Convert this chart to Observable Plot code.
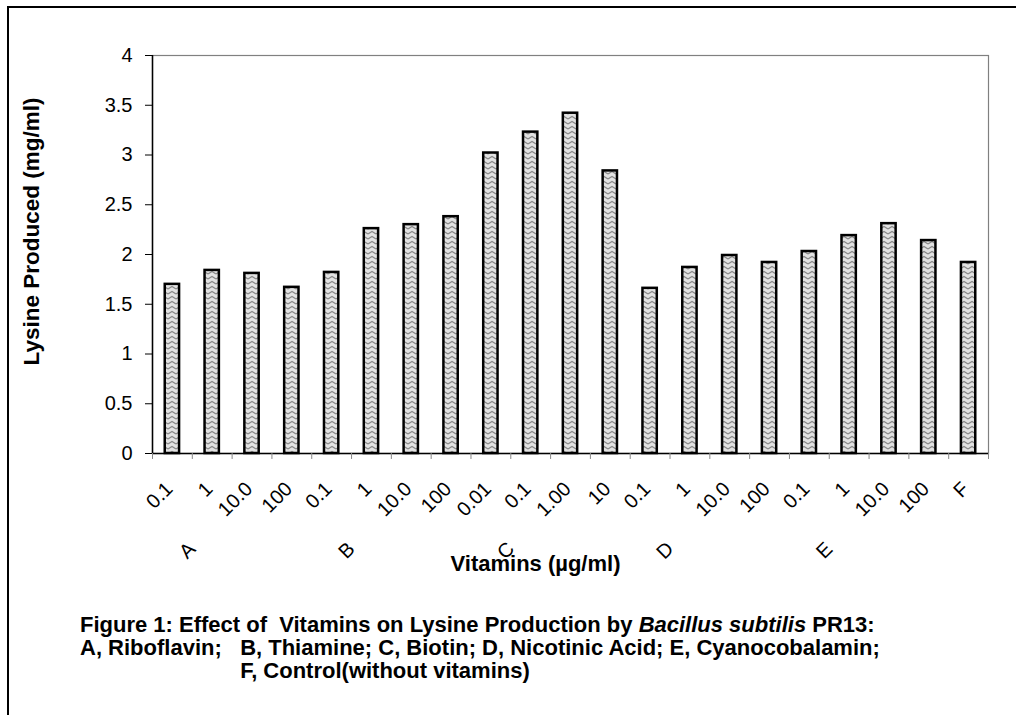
<!DOCTYPE html>
<html>
<head>
<meta charset="utf-8">
<script src="https://cdn.jsdelivr.net/npm/d3@7"></script>
<script src="https://cdn.jsdelivr.net/npm/@observablehq/plot@0.6"></script>
<style>
  body { margin: 0; background: #fff; overflow: hidden; }
  #wrap { position: relative; width: 1016px; height: 715px; overflow: hidden; font-family: "Liberation Sans", Arial, sans-serif; background: #fff; }
  #frame { position: absolute; left: 7px; top: 6px; width: 1100px; height: 800px; border-left: 2px solid #000; border-top: 2px solid #000; }
  #chart { position: absolute; left: 0; top: 0; }
  #caption { position: absolute; left: 80px; top: 613px; font-weight: bold; font-size: 22px; line-height: 23px; white-space: pre; color: #000; }
  #caption div { height: 23px; }
</style>
</head>
<body>
<svg width="0" height="0" style="position:absolute">
  <defs>
    <pattern id="zig" width="8" height="5" patternUnits="userSpaceOnUse">
      <rect width="8" height="5" fill="#e2e2e2"></rect>
      <path d="M0,4 L4,1.5 L8,4" fill="none" stroke="#888888" stroke-width="1.2"></path>
    </pattern>
  </defs>
</svg>
<div id="wrap">
  <div id="frame"></div>
  <div id="chart"></div>
  <div id="caption"></div>
</div>
<script>
// ---- data ----
const groups = ["A","A","A","A","B","B","B","B","C","C","C","C","D","D","D","D","E","E","E","E","F"];
const doses  = ["0.1","1","10.0","100","0.1","1","10.0","100","0.01","0.1","1.00","10","0.1","1","10.0","100","0.1","1","10.0","100","F"];
const values = [1.70,1.84,1.81,1.67,1.82,2.26,2.30,2.38,3.02,3.23,3.42,2.84,1.66,1.87,1.99,1.92,2.03,2.19,2.31,2.14,1.92];
const groupLabels = ["A","B","C","D","E"];
const yTicks = [0,0.5,1,1.5,2,2.5,3,3.5,4];
const yTitle = "Lysine Produced (mg/ml)";
const xTitle = "Vitamins (\u00b5g/ml)";
const captionLine1a = "Figure 1: Effect of  Vitamins on Lysine Production by ";
const captionLine1b = "Bacillus subtilis";
const captionLine1c = " PR13:";
const captionLine2a = "A, Riboflavin;   ";
const captionLine2b = "B, Thiamine; C, Biotin; D, Nicotinic Acid; E, Cyanocobalamin;";
const captionLine3 = "F, Control(without vitamins)";

// ---- build ----
const data = values.map((v, i) => ({key: groups[i] + "|" + doses[i], group: groups[i], dose: doses[i], value: v}));
const keys = data.map(d => d.key);
const groupFirst = groupLabels.map(g => data.find(d => d.group === g));

const W = 1016, H = 600, mL = 152, mR = 28, mT = 55, mB = 147;
const step = (W - mL - mR) / keys.length;
const font = "Liberation Sans, Arial, sans-serif";

const chart = Plot.plot({
  width: W, height: H,
  marginLeft: mL, marginRight: mR, marginTop: mT, marginBottom: mB,
  style: {fontFamily: font, fontSize: "20px", color: "#000", background: "transparent", overflow: "visible"},
  x: {domain: keys, paddingInner: 0.64, paddingOuter: 0.32, round: false, axis: null},
  y: {domain: [0, 4], axis: null},
  marks: [
    Plot.frame({stroke: "#808080", strokeWidth: 1.2}),
    Plot.axisY({ticks: yTicks, tickSize: 7, tickPadding: 13, tickFormat: d => String(d), fontSize: 20, stroke: "#000", label: null}),
    Plot.barY(data, {x: "key", y: "value", fill: "url(#zig)", stroke: "#000", strokeWidth: 2.5}),
    Plot.ruleY([0], {stroke: "#000", strokeWidth: 1.5}),
    Plot.ruleX([keys[0]], {x: d => d, dx: -step / 2, stroke: "#000", strokeWidth: 1.5}),
    Plot.ruleX(keys, {x: d => d, dx: -step / 2, y1: 0, y2: -0.06, stroke: "#888"}),
    Plot.ruleX([keys[keys.length - 1]], {x: d => d, dx: step / 2, y1: 0, y2: -0.06, stroke: "#888"}),
    Plot.text(data, {x: "key", text: "dose", frameAnchor: "bottom", lineAnchor: "middle", dx: -3, dy: 32, textAnchor: "end", rotate: -45, fontSize: 20, fill: "#000"}),
    Plot.text(groupFirst, {x: "key", text: "group", frameAnchor: "bottom", lineAnchor: "middle", textAnchor: "middle", dx: 15, dy: 97, rotate: -45, fontSize: 20, fill: "#000"}),
    Plot.text([yTitle], {frameAnchor: "left", textAnchor: "middle", lineAnchor: "middle", dx: 31 - mL, dy: -23, rotate: -90, fontWeight: "bold", fontSize: 22.5, fill: "#000"}),
    Plot.text([xTitle], {frameAnchor: "bottom", textAnchor: "middle", lineAnchor: "middle", dx: -35, dy: 110, fontWeight: "bold", fontSize: 22, fill: "#000"})
  ]
});
document.getElementById("chart").appendChild(chart);

const cap = document.getElementById("caption");
function line(parts) {
  const div = document.createElement("div");
  for (const [txt, style] of parts) {
    const s = document.createElement("span");
    s.textContent = txt;
    if (style) s.setAttribute("style", style);
    div.appendChild(s);
  }
  cap.appendChild(div);
}
line([[captionLine1a], [captionLine1b, "font-style:italic"], [captionLine1c]]);
line([[captionLine2a], [captionLine2b]]);
line([[captionLine2a, "visibility:hidden"], [captionLine3]]);
</script>
</body>
</html>
